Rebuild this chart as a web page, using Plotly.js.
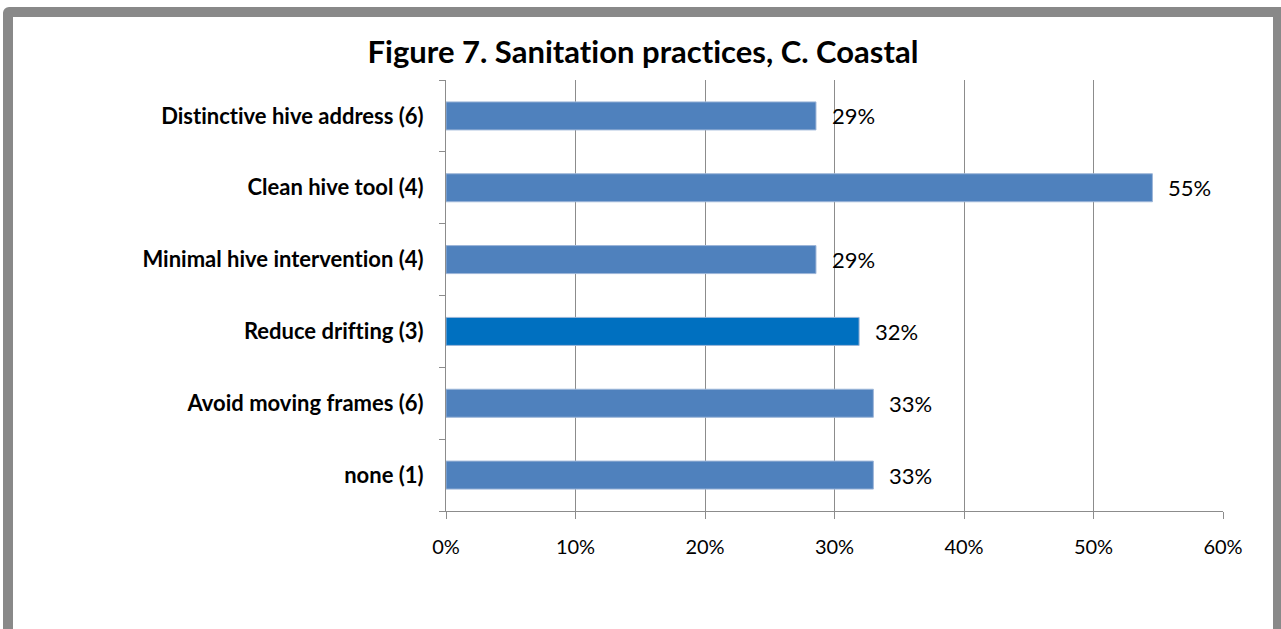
<!DOCTYPE html>
<html>
<head>
<meta charset="utf-8">
<script src="https://cdn.plot.ly/plotly-3.0.1.min.js"></script>
<style>
  html, body { margin: 0; padding: 0; background: #ffffff; overflow: hidden; }
  #chart { position: absolute; left: 0; top: 0; width: 1281px; height: 629px; }
  #frame { position: absolute; left: 3px; top: 7px; width: 1260px; height: 700px;
           border: 10px solid #898989; border-radius: 6px 0 0 0;
           pointer-events: none; box-sizing: content-box; }
  svg text { font-variant-ligatures: none !important; font-feature-settings: "liga" 0, "clig" 0; }
</style>
</head>
<body>
<div id="chart"></div>
<div id="frame"></div>
<script>
// Data (bottom-to-top order as drawn)
const categories = [
  "none (1)",
  "Avoid moving frames (6)",
  "Reduce drifting (3)",
  "Minimal hive intervention (4)",
  "Clean hive tool (4)",
  "Distinctive hive address (6)"
];
const values = [0.33, 0.33, 0.319, 0.2857, 0.5455, 0.2857];
const valueLabels = ["33%", "33%", "32%", "29%", "55%", "29%"];
const barColors = ["#4F81BD", "#4F81BD", "#0070C0", "#4F81BD", "#4F81BD", "#4F81BD"];
const xTickVals = [0, 0.1, 0.2, 0.3, 0.4, 0.5, 0.6];
const xTickText = ["0%", "10%", "20%", "30%", "40%", "50%", "60%"];
const titleText = "Figure 7. Sanitation practices, C. Coastal";

const FONT = "Lato, 'Open Sans', sans-serif";

const trace = {
  type: "bar",
  orientation: "h",
  y: categories,
  x: values,
  width: 0.39,
  marker: { color: barColors, line: { color: "#9db6d8", width: 1 } },
  hoverinfo: "none"
};

const annotations = categories.map((c, i) => ({
  x: values[i], y: c, xref: "x", yref: "y",
  text: valueLabels[i], showarrow: false,
  xanchor: "left", yanchor: "middle", xshift: 14,
  font: { family: FONT, size: 22, color: "#000000" }
}));

const layout = {
  width: 1281, height: 629,
  paper_bgcolor: "rgba(0,0,0,0)",
  plot_bgcolor: "#ffffff",
  margin: { l: 446, r: 58, t: 80, b: 118 },
  showlegend: false,
  bargap: 0.61,
  title: {
    text: "<b>" + titleText + "</b>",
    x: 643 / 1281, xanchor: "center",
    y: 1 - 52 / 629, yanchor: "middle",
    font: { family: FONT, size: 31, color: "#000000" }
  },
  xaxis: {
    range: [0, 0.6],
    tickvals: xTickVals, ticktext: xTickText,
    showgrid: true, gridcolor: "#8c8c8c", gridwidth: 1,
    showline: true, linecolor: "#8c8c8c", linewidth: 1,
    ticks: "outside", ticklen: 7, tickcolor: "#8c8c8c",
    zeroline: false,
    tickfont: { family: FONT, size: 20, color: "#000000" },
    ticklabelstandoff: 11,
    fixedrange: true
  },
  yaxis: {
    type: "category",
    categoryorder: "array", categoryarray: categories,
    showgrid: false,
    showline: true, linecolor: "#8c8c8c", linewidth: 1,
    ticks: "outside", ticklen: 6, tickcolor: "#8c8c8c",
    tickson: "boundaries",
    ticklabelstandoff: 17,
    tickfont: { family: FONT, size: 22, color: "#000000", weight: "bold" },
    fixedrange: true
  },
  annotations: annotations
};

Plotly.newPlot("chart", [trace], layout, { displayModeBar: false, staticPlot: true });
</script>
</body>
</html>
